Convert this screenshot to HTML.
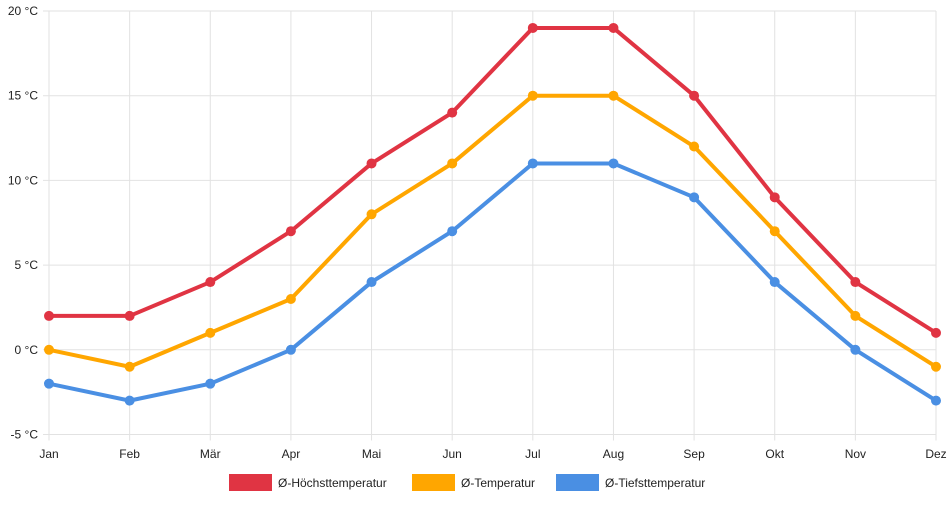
<!DOCTYPE html>
<html><head><meta charset="utf-8"><style>
body{margin:0;background:#fff;font-family:"Liberation Sans",sans-serif}
svg text{font-family:"Liberation Sans",sans-serif;font-size:12px;fill:#222}
</style></head><body>
<svg id="c" width="952" height="500"></svg>
<script>
const months=["Jan","Feb","Mär","Apr","Mai","Jun","Jul","Aug","Sep","Okt","Nov","Dez"];
const highs=[2,2,4,7,11,14,19,19,15,9,4,1];
const avgs=[0,-1,1,3,8,11,15,15,12,7,2,-1];
const lows=[-2,-3,-2,0,4,7,11,11,9,4,0,-3];
const yTicks=[-5,0,5,10,15,20];
const seriesNames=["Ø-Höchsttemperatur","Ø-Temperatur","Ø-Tiefsttemperatur"];
const colors=["#e03443","#ffa600","#4a8fe3"];
const NS="http://www.w3.org/2000/svg";
const svg=document.getElementById('c');
const x0=49,x1=936,yTop=11,yBot=434.5,vMin=-5,vMax=20;
const xs=i=>x0+i*(x1-x0)/(months.length-1);
const ys=v=>yBot-(v-vMin)*(yBot-yTop)/(vMax-vMin);
function mk(t,a,p){const e=document.createElementNS(NS,t);for(const k in a)e.setAttribute(k,a[k]);(p||svg).appendChild(e);return e;}
const grid=mk('g',{});


yTicks.forEach(v=>{
  mk('line',{x1:43,x2:x1,y1:ys(v),y2:ys(v),stroke:'#e2e2e2'},grid);
  const t=mk('text',{x:38,y:ys(v)+4,'text-anchor':'end'});
  t.textContent=v+' °C';
  
  
});
months.forEach((m,i)=>{
  mk('line',{x1:xs(i),x2:xs(i),y1:yTop,y2:yBot+6,stroke:'#e2e2e2'},grid);
  const t=mk('text',{x:xs(i),y:458,'text-anchor':'middle'});
  t.textContent=m;
  
  
});
[highs,avgs,lows].forEach((d,s)=>{
  const g=mk('g',{});
  
  
  mk('polyline',{points:d.map((v,i)=>xs(i)+','+ys(v)).join(' '),fill:'none',stroke:colors[s],'stroke-width':4,'stroke-linejoin':'round'},g);
  d.forEach((v,i)=>{
    const c=mk('circle',{cx:xs(i),cy:ys(v),r:5,fill:colors[s]},g);
    
    
  });
});
const lx=[229,412,556];
seriesNames.forEach((n,s)=>{
  const g=mk('g',{});
  
  
  mk('rect',{x:lx[s],y:474,width:43,height:17,fill:colors[s]},g);
  const t=mk('text',{x:lx[s]+49,y:487},g);
  t.textContent=n;
});
</script>
</body></html>
